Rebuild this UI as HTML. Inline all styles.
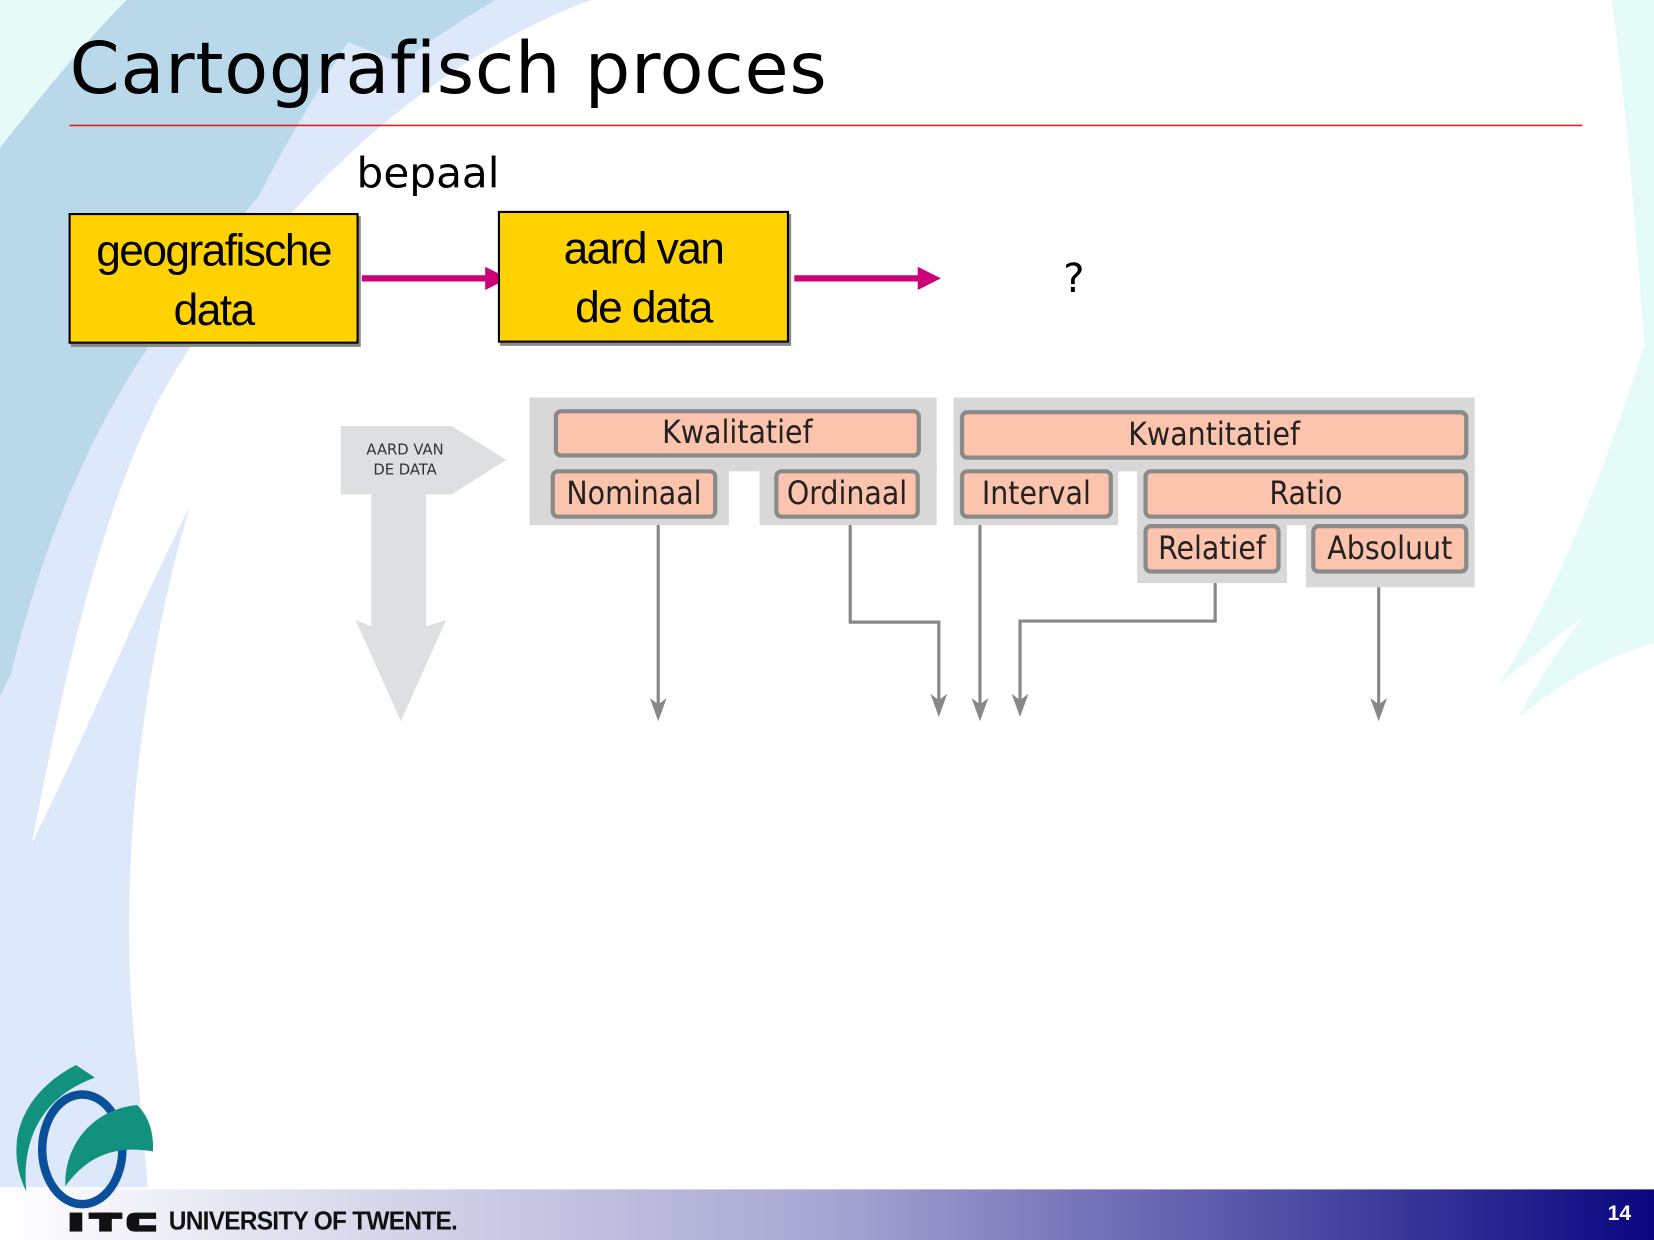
<!DOCTYPE html>
<html><head><meta charset="utf-8"><style>
html,body{margin:0;padding:0;background:#fff;overflow:hidden}
#w{position:absolute;left:0;top:0;width:1568px;height:1176px;transform:scale(1.05485,1.05442);transform-origin:0 0;font-family:"DejaVu Sans","Liberation Sans",sans-serif}
.a{position:absolute}
.yb{position:absolute;background:#ffd200;border:2px solid #000;box-shadow:2px 3px 0 #888;font-family:"Liberation Sans",sans-serif;font-size:42px;line-height:56px;text-align:center;letter-spacing:-1.5px;color:#000}
.g{position:absolute;background:#d8d8d8}
.p{position:absolute;background:#fcc3ad;border:4px solid #8a8a8a;border-radius:7px;box-sizing:border-box;font-size:30px;text-align:center;color:#222;font-family:"DejaVu Sans Condensed","DejaVu Sans",sans-serif}
</style></head><body><div id="w">
<svg class="a" style="left:0;top:0" width="1568" height="1176">
<path d="M0 0 H560 C400 60 250 200 150 380 C90 500 60 650 30 800 L0 820 Z" fill="#dde9fb"/>
<path d="M0 0 H470 C330 80 220 200 140 330 C80 420 40 520 10 640 L0 660 Z" fill="#b9d9ea"/>
<path d="M0 0 H120 C80 40 40 90 0 140 Z" fill="#e6fbf8"/>
<path d="M0 820 L30 800 C80 700 120 600 180 480 C130 650 110 850 130 1010 L140 1126 H0 Z" fill="#dde9fb"/>
<path d="M330 40 C280 120 230 200 200 300 C260 200 320 120 380 60 Z" fill="#dde9fb"/>
<path d="M1528 0 H1568 V420 C1555 300 1548 150 1528 0 Z" fill="#e4fbf8"/>
<path d="M1568 300 C1530 420 1480 560 1420 650 C1480 600 1530 560 1568 540 Z" fill="#e4fbf8"/>
<path d="M1568 500 C1520 560 1470 620 1440 680 C1490 640 1530 620 1568 610 Z" fill="#e4fbf8"/>
<line x1="66" y1="119" x2="1500" y2="119" stroke="#e02020" stroke-width="1.5"/>
<line x1="343" y1="264" x2="462" y2="264" stroke="#cc0077" stroke-width="6"/>
<polygon points="460,253 482,264 460,275" fill="#cc0077"/>
<line x1="753" y1="264" x2="872" y2="264" stroke="#cc0077" stroke-width="6"/>
<polygon points="870,253 892,264 870,275" fill="#cc0077"/>
<polygon points="323,404 428,404 480,436 428,469 323,469" fill="#dedfe0"/>
<polygon points="352,469 404,469 404,594 423,588 380,684 337,588 352,594" fill="#dedfe0"/>
<g stroke="#888" stroke-width="3" fill="none">
<path d="M624 490 V668"/>
<path d="M806 490 V590 H890 V664"/>
<path d="M929 490 V668"/>
<path d="M1152 542 V589 H967 V664"/>
<path d="M1307 542 V668"/>
</g>
<g fill="#888">
<polygon points="616,662 624,684 632,662 624,668"/>
<polygon points="882,658 890,680 898,658 890,664"/>
<polygon points="921,662 929,684 937,662 929,668"/>
<polygon points="959,658 967,680 975,658 967,664"/>
<polygon points="1299,662 1307,684 1315,662 1307,668"/>
</g>
<defs><linearGradient id="bg" x1="0" x2="1"><stop offset="0" stop-color="#fff"/><stop offset="0.5" stop-color="#a7a6d2"/><stop offset="1" stop-color="#0a0680"/></linearGradient></defs>
<rect x="0" y="1128" width="1568" height="48" fill="url(#bg)"/>
<path d="M72 1010 L90 1022 C40 1040 20 1080 25 1130 C5 1090 15 1040 72 1010 Z" fill="#13917f"/>
<ellipse cx="78" cy="1090" rx="38" ry="52" fill="none" stroke="#0a4f9a" stroke-width="8"/>
<path d="M130 1048 C85 1052 60 1090 62 1125 C80 1100 105 1085 145 1092 C146 1072 140 1058 130 1048 Z" fill="#13917f"/>
<rect x="66" y="1150" width="12" height="18" fill="#111"/>
<rect x="84" y="1150" width="32" height="6" fill="#111"/>
<rect x="94" y="1150" width="12" height="18" fill="#111"/>
<path d="M148 1150 H128 Q120 1150 120 1158 V1160 Q120 1168 128 1168 H148 V1162 H132 V1156 H148 Z" fill="#111"/>
</svg>
<div class="a" style="left:66px;top:26px;font-size:68px;font-family:'DejaVu Sans','Liberation Sans',sans-serif;color:#000;letter-spacing:0.7px">Cartografisch proces</div>
<div class="a" style="left:338px;top:142px;font-size:40px;color:#000">bepaal</div>
<div class="yb" style="left:65px;top:202px;width:275px;height:124px;padding-top:6px;box-sizing:border-box">geografische<br>data</div>
<div class="yb" style="left:472px;top:200px;width:276px;height:125px;padding-top:6px;box-sizing:border-box">aard van<br>de data</div>
<div class="a" style="left:1008px;top:242px;font-size:38px">?</div>
<div class="a" style="left:323px;top:418px;width:122px;text-align:center;font-size:14px;line-height:19px;color:#333">AARD VAN<br>DE DATA</div>
<div class="g" style="left:502px;top:377px;width:386px;height:70px"></div>
<div class="g" style="left:502px;top:440px;width:189px;height:58px"></div>
<div class="g" style="left:720px;top:440px;width:168px;height:58px"></div>
<div class="g" style="left:904px;top:377px;width:494px;height:70px"></div>
<div class="g" style="left:904px;top:440px;width:156px;height:58px"></div>
<div class="g" style="left:1078px;top:440px;width:320px;height:58px"></div>
<div class="g" style="left:1078px;top:495px;width:142px;height:58px"></div>
<div class="g" style="left:1238px;top:495px;width:160px;height:62px"></div>
<div class="p" style="left:525px;top:388px;width:348px;height:46px;line-height:38px">Kwalitatief</div>
<div class="p" style="left:910px;top:389px;width:482px;height:47px;line-height:39px">Kwantitatief</div>
<div class="p" style="left:522px;top:445px;width:158px;height:47px;line-height:39px">Nominaal</div>
<div class="p" style="left:734px;top:445px;width:138px;height:47px;line-height:39px">Ordinaal</div>
<div class="p" style="left:910px;top:445px;width:145px;height:47px;line-height:39px">Interval</div>
<div class="p" style="left:1084px;top:445px;width:308px;height:47px;line-height:39px">Ratio</div>
<div class="p" style="left:1084px;top:497px;width:130px;height:47px;line-height:39px">Relatief</div>
<div class="p" style="left:1243px;top:497px;width:149px;height:47px;line-height:39px">Absoluut</div>
<div class="a" style="left:160px;top:1144px;font-family:'Liberation Sans',sans-serif;font-weight:bold;font-size:25px;letter-spacing:-0.8px;color:#111;transform:scaleX(0.93);transform-origin:0 0">UNIVERSITY OF TWENTE.</div>
<div class="a" style="left:1524px;top:1140px;font-family:'Liberation Sans',sans-serif;font-weight:bold;font-size:20px;color:#fff">14</div>
</div></body></html>
